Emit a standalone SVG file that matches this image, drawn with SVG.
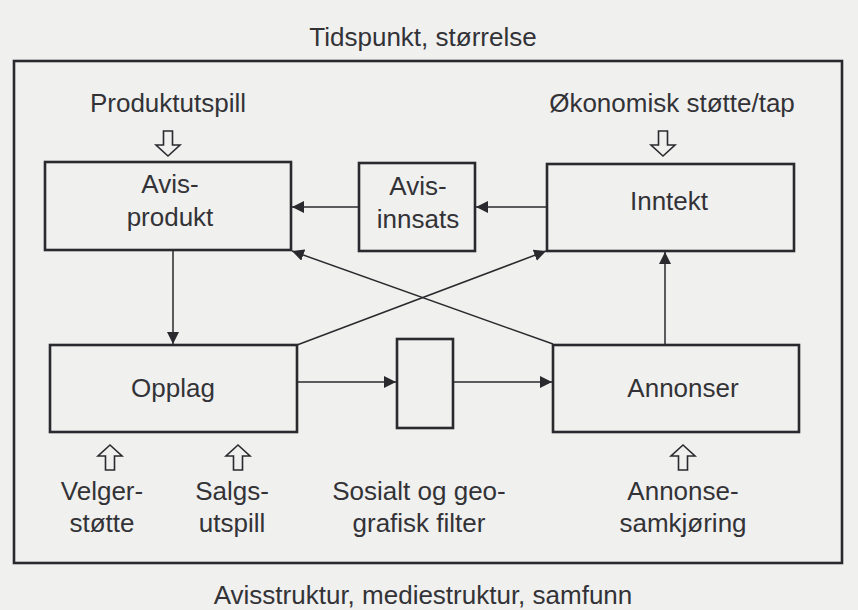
<svg xmlns="http://www.w3.org/2000/svg" width="858" height="610" viewBox="0 0 858 610">
<style>
.bg{fill:#f0f0ef}
.box{fill:none;stroke:#2a2a2e;stroke-width:2.6}
.outer{fill:none;stroke:#2a2a2e;stroke-width:2.6}
.t{font-family:"Liberation Sans",Arial,sans-serif;font-size:26px;fill:#333337;text-anchor:middle}
.c{stroke:#2a2a2e;stroke-width:1.5;fill:none}
.h{fill:none;stroke:#2a2a2e;stroke-width:1.6;stroke-linejoin:miter}
</style>
<defs>
<marker id="ah" viewBox="0 0 12 12" refX="12" refY="6" markerWidth="12" markerHeight="12" markerUnits="userSpaceOnUse" orient="auto">
<path d="M0,0 L12,6 L0,12 z" fill="#2a2a2e"/>
</marker>
<path id="hd" d="M-4.5,0 H4.5 V14 H12 L0,25 L-12,14 H-4.5 Z"/>
<path id="hu" d="M-4.5,25 H4.5 V11 H12 L0,0 L-12,11 H-4.5 Z"/>
</defs>
<rect class="bg" x="0" y="0" width="858" height="610"/>
<rect class="outer" x="14" y="61" width="828" height="502"/>
<text class="t" x="423" y="46">Tidspunkt, størrelse</text>
<text class="t" x="423" y="604">Avisstruktur, mediestruktur, samfunn</text>

<g id="produktutspill">
<text class="t" x="168" y="112">Produktutspill</text>
<use href="#hd" class="h" x="168" y="131"/>
</g>
<g id="okonomisk">
<text class="t" x="672" y="112">Økonomisk støtte/tap</text>
<use href="#hd" class="h" x="663" y="131"/>
</g>
<g id="avisprodukt">
<rect class="box" x="45" y="162" width="246" height="88"/>
<text class="t" x="170" y="193">Avis-</text>
<text class="t" x="170" y="226">produkt</text>
</g>
<g id="avisinnsats">
<rect class="box" x="359" y="163" width="116" height="88"/>
<text class="t" x="418" y="195">Avis-</text>
<text class="t" x="418" y="228">innsats</text>
</g>
<g id="inntekt">
<rect class="box" x="547" y="164" width="247" height="87"/>
<text class="t" x="669" y="210">Inntekt</text>
</g>
<g id="opplag">
<rect class="box" x="50" y="345" width="247" height="87"/>
<text class="t" x="173" y="397">Opplag</text>
</g>
<g id="filter">
<rect class="box" x="397" y="339" width="56" height="89"/>
</g>
<g id="annonser">
<rect class="box" x="553" y="345" width="246" height="87"/>
<text class="t" x="683" y="397">Annonser</text>
</g>
<g id="velgerstotte">
<use href="#hu" class="h" x="110" y="445"/>
<text class="t" x="102" y="500">Velger-</text>
<text class="t" x="102" y="532">støtte</text>
</g>
<g id="salgsutspill">
<use href="#hu" class="h" x="238" y="445"/>
<text class="t" x="232" y="500">Salgs-</text>
<text class="t" x="232" y="532">utspill</text>
</g>
<g id="sosialt">
<text class="t" x="419" y="500">Sosialt og geo-</text>
<text class="t" x="419" y="532">grafisk filter</text>
</g>
<g id="annonsesamkjoring">
<use href="#hu" class="h" x="683" y="445"/>
<text class="t" x="683" y="500">Annonse-</text>
<text class="t" x="683" y="532">samkjøring</text>
</g>
<g id="connectors">
<line class="c" x1="547" y1="207" x2="476" y2="207" marker-end="url(#ah)"/>
<line class="c" x1="359" y1="207" x2="292" y2="207" marker-end="url(#ah)"/>
<line class="c" x1="173" y1="251" x2="173" y2="344" marker-end="url(#ah)"/>
<line class="c" x1="665" y1="345" x2="665" y2="252" marker-end="url(#ah)"/>
<line class="c" x1="297" y1="345" x2="546" y2="251" marker-end="url(#ah)"/>
<line class="c" x1="553" y1="344" x2="292" y2="251" marker-end="url(#ah)"/>
<line class="c" x1="297" y1="382" x2="396" y2="382" marker-end="url(#ah)"/>
<line class="c" x1="453" y1="382" x2="552" y2="382" marker-end="url(#ah)"/>
</g>
</svg>
